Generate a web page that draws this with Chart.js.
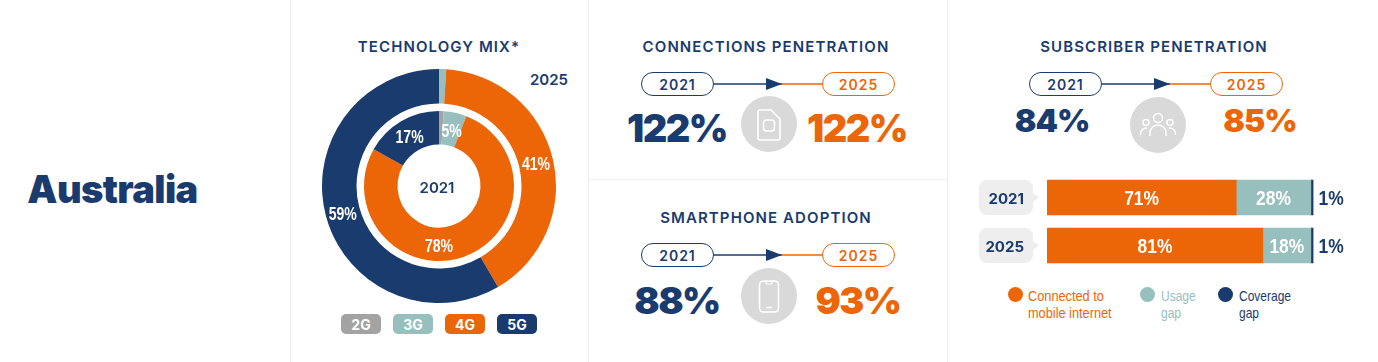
<!DOCTYPE html>
<html><head><meta charset="utf-8">
<script src="https://cdn.jsdelivr.net/npm/chart.js@4/dist/chart.umd.min.js"></script>
<style>
html,body{margin:0;padding:0;background:#fff;width:1378px;height:362px;overflow:hidden}
body{position:relative;font-family:Inter,sans-serif;color:#1a3b6e}
.a{position:absolute}
.c{position:absolute;transform:translate(-50%,-50%);white-space:nowrap}
.rule{position:absolute;background:#efefef}
.title{font-weight:600;font-size:15px;letter-spacing:1.1px}
.pill{position:absolute;box-sizing:border-box;width:73px;height:24px;border-radius:12px;border:1.5px solid;background:#fff;display:flex;align-items:center;justify-content:center;font-weight:600;font-size:14px;letter-spacing:1px}
.navy{color:#1a3b6e;border-color:#1a3b6e}.orange{color:#ec6608;border-color:#ec6608}
.big{font-weight:900}
.b1{font-size:38px;letter-spacing:-1.5px}
.b2{font-size:37.500px;letter-spacing:-1.5px}
.b3{font-size:32px;letter-spacing:-1px}
.tech{position:absolute;width:40px;height:20px;top:314px;border-radius:5px;color:#fff;font-weight:700;font-size:14px;display:flex;align-items:center;justify-content:center}
.leg{position:absolute;font-family:"Liberation Sans",sans-serif;font-size:15px;line-height:16.500px;transform:scaleX(.8);transform-origin:0 0;white-space:nowrap}
.dot{position:absolute;width:15px;height:15px;border-radius:50%}
</style></head><body>
<div class="rule" style="left:290px;top:0;width:1px;height:362px"></div>
<div class="rule" style="left:588px;top:0;width:1px;height:362px"></div>
<div class="rule" style="left:947px;top:0;width:1px;height:362px"></div>
<div class="rule" style="left:589px;top:179px;width:358px;height:1px"></div>

<div class="c" style="left:112.500px;top:189px;font-weight:900;font-size:38px;letter-spacing:-.6px">Australia</div>

<div class="c title" style="left:439px;top:46px">TECHNOLOGY MIX*</div>
<div class="c" style="left:549px;top:79px;font-weight:600;font-size:15px">2025</div>
<canvas id="donut" class="a" width="240" height="240" style="left:319px;top:66px;width:240px;height:240px"></canvas>
<div class="c" style="left:437px;top:187px;font-weight:600;font-size:15px">2021</div>
<div class="tech" style="left:341px;background:#a3a3a3">2G</div>
<div class="tech" style="left:393px;background:#96bfbd">3G</div>
<div class="tech" style="left:445px;background:#ec6608">4G</div>
<div class="tech" style="left:497px;background:#1a3b6e">5G</div>

<div class="c title" style="left:766px;top:46px">CONNECTIONS PENETRATION</div>
<svg class="a" style="left:600px;top:60px" width="340" height="50"><path d="M110 24H182" stroke="#1a3b6e" stroke-width="1.5"/><path d="M182 24H230" stroke="#ec6608" stroke-width="1.5"/><path d="M166 18L182 24L166 30Z" fill="#1a3b6e"/></svg>
<div class="pill navy" style="left:641px;top:72px">2021</div>
<div class="pill orange" style="left:822px;top:72px">2025</div>
<div class="c big b1" style="left:677px;top:128px;color:#1a3b6e">122%</div>
<div class="c big b1" style="left:857px;top:128px;color:#ec6608">122%</div>
<svg class="a" style="left:741px;top:96px" width="56" height="56"><circle cx="28" cy="28" r="28" fill="#d9d9d9"/><path d="M17 16a2 2 0 0 1 2-2h11l9 9v19a2 2 0 0 1-2 2H19a2 2 0 0 1-2-2Z" fill="none" stroke="#fff" stroke-width="1.6"/><rect x="22.500" y="24" width="11" height="11" rx="3" fill="none" stroke="#fff" stroke-width="1.6"/></svg>

<div class="c title" style="left:766px;top:217px">SMARTPHONE ADOPTION</div>
<svg class="a" style="left:600px;top:231px" width="340" height="50"><path d="M110 24H182" stroke="#1a3b6e" stroke-width="1.5"/><path d="M182 24H230" stroke="#ec6608" stroke-width="1.5"/><path d="M166 18L182 24L166 30Z" fill="#1a3b6e"/></svg>
<div class="pill navy" style="left:641px;top:243px">2021</div>
<div class="pill orange" style="left:822px;top:243px">2025</div>
<div class="c big b2" style="left:677px;top:300px;color:#1a3b6e">88%</div>
<div class="c big b2" style="left:858px;top:300px;color:#ec6608">93%</div>
<svg class="a" style="left:741px;top:268px" width="56" height="56"><circle cx="28" cy="28" r="28" fill="#d9d9d9"/><rect x="18.500" y="13" width="19" height="31" rx="4" fill="none" stroke="#fff" stroke-width="1.6"/><path d="M25 13.500h6v1.500a1 1 0 0 1-1 1h-4a1 1 0 0 1-1-1Z" fill="none" stroke="#fff" stroke-width="1.2"/><path d="M25 39.500h6" stroke="#fff" stroke-width="1.6"/></svg>

<div class="c title" style="left:1154px;top:46px">SUBSCRIBER PENETRATION</div>
<svg class="a" style="left:960px;top:60px" width="340" height="50"><path d="M140 24H210" stroke="#1a3b6e" stroke-width="1.5"/><path d="M210 24H252" stroke="#ec6608" stroke-width="1.5"/><path d="M194 18L210 24L194 30Z" fill="#1a3b6e"/></svg>
<div class="pill navy" style="left:1029px;top:72px">2021</div>
<div class="pill orange" style="left:1210px;top:72px">2025</div>
<div class="c big b3" style="left:1052px;top:120px;color:#1a3b6e">84%</div>
<div class="c big b3" style="left:1260px;top:120px;color:#ec6608">85%</div>
<svg class="a" style="left:1130px;top:97px" width="56" height="56"><circle cx="28" cy="28" r="28" fill="#d9d9d9"/><g fill="none" stroke="#fff" stroke-width="1.5"><circle cx="28" cy="21" r="4.500"/><circle cx="16" cy="25.500" r="3"/><circle cx="40" cy="25.500" r="3"/><path d="M20 39v-3a8 8 0 0 1 16 0v3"/><path d="M10.500 38v-1a6 6 0 0 1 6.500-6"/><path d="M45.500 38v-1a6 6 0 0 0-6.500-6"/></g></svg>

<svg class="a" style="left:979px;top:180px" width="62" height="84"><path d="M8 0H46a8 8 0 0 1 8 8V13L60 17.500L54 22V27a8 8 0 0 1-8 8H8a8 8 0 0 1-8-8V8a8 8 0 0 1 8-8Z" fill="#eeeeee"/><path d="M8 48H46a8 8 0 0 1 8 8V61L60 65.500L54 70V75a8 8 0 0 1-8 8H8a8 8 0 0 1-8-8V56a8 8 0 0 1 8-8Z" fill="#eeeeee"/></svg>
<canvas id="bars" class="a" width="390" height="102" style="left:970px;top:170px;width:390px;height:102px"></canvas>

<div class="dot" style="left:1008px;top:287px;background:#ec6608"></div>
<div class="leg" style="left:1028px;top:288px;color:#ec6608;transform:scaleX(.85)">Connected to<br>mobile internet</div>
<div class="dot" style="left:1140px;top:287px;background:#96bfbd"></div>
<div class="leg" style="left:1161px;top:288px;color:#96bfbd">Usage<br>gap</div>
<div class="dot" style="left:1218px;top:287px;background:#1a3b6e"></div>
<div class="leg" style="left:1239px;top:288px;color:#1a3b6e">Coverage<br>gap</div>

<script>
const technologies = ['2G','3G','4G','5G'];
const techColors = ['#a3a3a3','#96bfbd','#ec6608','#1a3b6e'];
const mix2025 = [0,1,41,59];
const mix2021 = [1,5,78,17];

const barYears = ['2021','2025'];
const connected = [71,81];
const usageGap = [28,18];
const coverageGap = [1,1];

const NAVY='#1a3b6e', ORANGE='#ec6608', TEAL='#96bfbd';

const donutLabels = {
  id:'donutLabels',
  afterDatasetsDraw(chart){
    const ctx=chart.ctx;
    ctx.save();
    ctx.font='bold 18px "Liberation Sans", sans-serif';
    ctx.fillStyle='#fff';ctx.textAlign='center';ctx.textBaseline='middle';
    [[0,mix2025,['3G','2G']],[2,mix2021,['2G']]].forEach(([di,vals,skip])=>{
      const meta=chart.getDatasetMeta(di);
      vals.forEach((v,i)=>{
        if(skip.includes(technologies[i])||!v) return;
        const el=meta.data[i];
        let p=el.tooltipPosition();
        if(di===2&&technologies[i]==='4G'){
          const r=(el.innerRadius+el.outerRadius)/2;
          p={x:el.x,y:el.y+r};
        }
        ctx.save();
        ctx.translate(p.x,p.y+2.5);
        ctx.scale(.78,1);
        ctx.fillText(v+'%',0,0);
        ctx.restore();
      });
    });
    ctx.restore();
  }
};
new Chart(document.getElementById('donut'),{
  type:'doughnut',
  data:{labels:technologies,datasets:[
    {label:'2025',data:mix2025,backgroundColor:techColors,borderWidth:0,weight:34.5},
    {label:'',data:[1],backgroundColor:['rgba(0,0,0,0)'],borderWidth:0,weight:7.5},
    {label:'2021',data:mix2021,backgroundColor:techColors,borderWidth:0,weight:33.5}
  ]},
  options:{responsive:false,animation:false,cutout:41.5,layout:{padding:3},
    plugins:{legend:{display:false},tooltip:{enabled:false}}},
  plugins:[donutLabels]
});

const barLabels = {
  id:'barLabels',
  afterDatasetsDraw(chart){
    const ctx=chart.ctx;
    ctx.save();
    ctx.textBaseline='middle';
    chart.data.datasets.forEach((ds,di)=>{
      chart.getDatasetMeta(di).data.forEach((el,i)=>{
        const v=ds.data[i];
        ctx.font='bold 21px "Liberation Sans", sans-serif';
        let x;
        if(di===2){ctx.fillStyle=NAVY;ctx.textAlign='left';x=el.x+5;}
        else{ctx.fillStyle='#fff';ctx.textAlign='center';x=(el.base+el.x)/2;}
        ctx.save();
        ctx.translate(x,el.y+1.5);
        ctx.scale(.83,1);
        ctx.fillText(v+'%',0,0);
        ctx.restore();
      });
    });
    ctx.restore();
  }
};
new Chart(document.getElementById('bars'),{
  type:'bar',
  data:{labels:barYears,datasets:[
    {label:'Connected to mobile internet',data:connected,backgroundColor:ORANGE},
    {label:'Usage gap',data:usageGap,backgroundColor:TEAL},
    {label:'Coverage gap',data:coverageGap,backgroundColor:NAVY}
  ]},
  options:{indexAxis:'y',responsive:false,animation:false,
    layout:{padding:{left:0,right:46.5,top:3.5,bottom:2.5}},
    datasets:{bar:{barThickness:35,borderWidth:0}},
    scales:{
      x:{stacked:true,display:false,min:0,max:100},
      y:{stacked:true,border:{display:false},grid:{display:false,drawTicks:true,tickLength:23},
        afterFit(s){s.width=77;s.paddingTop=0;s.paddingBottom=0;},
        ticks:{padding:0,labelOffset:2,color:NAVY,font:{family:'Inter',weight:'700',size:15}}}
    },
    plugins:{legend:{display:false},tooltip:{enabled:false}}},
  plugins:[barLabels]
});
</script>
</body></html>
